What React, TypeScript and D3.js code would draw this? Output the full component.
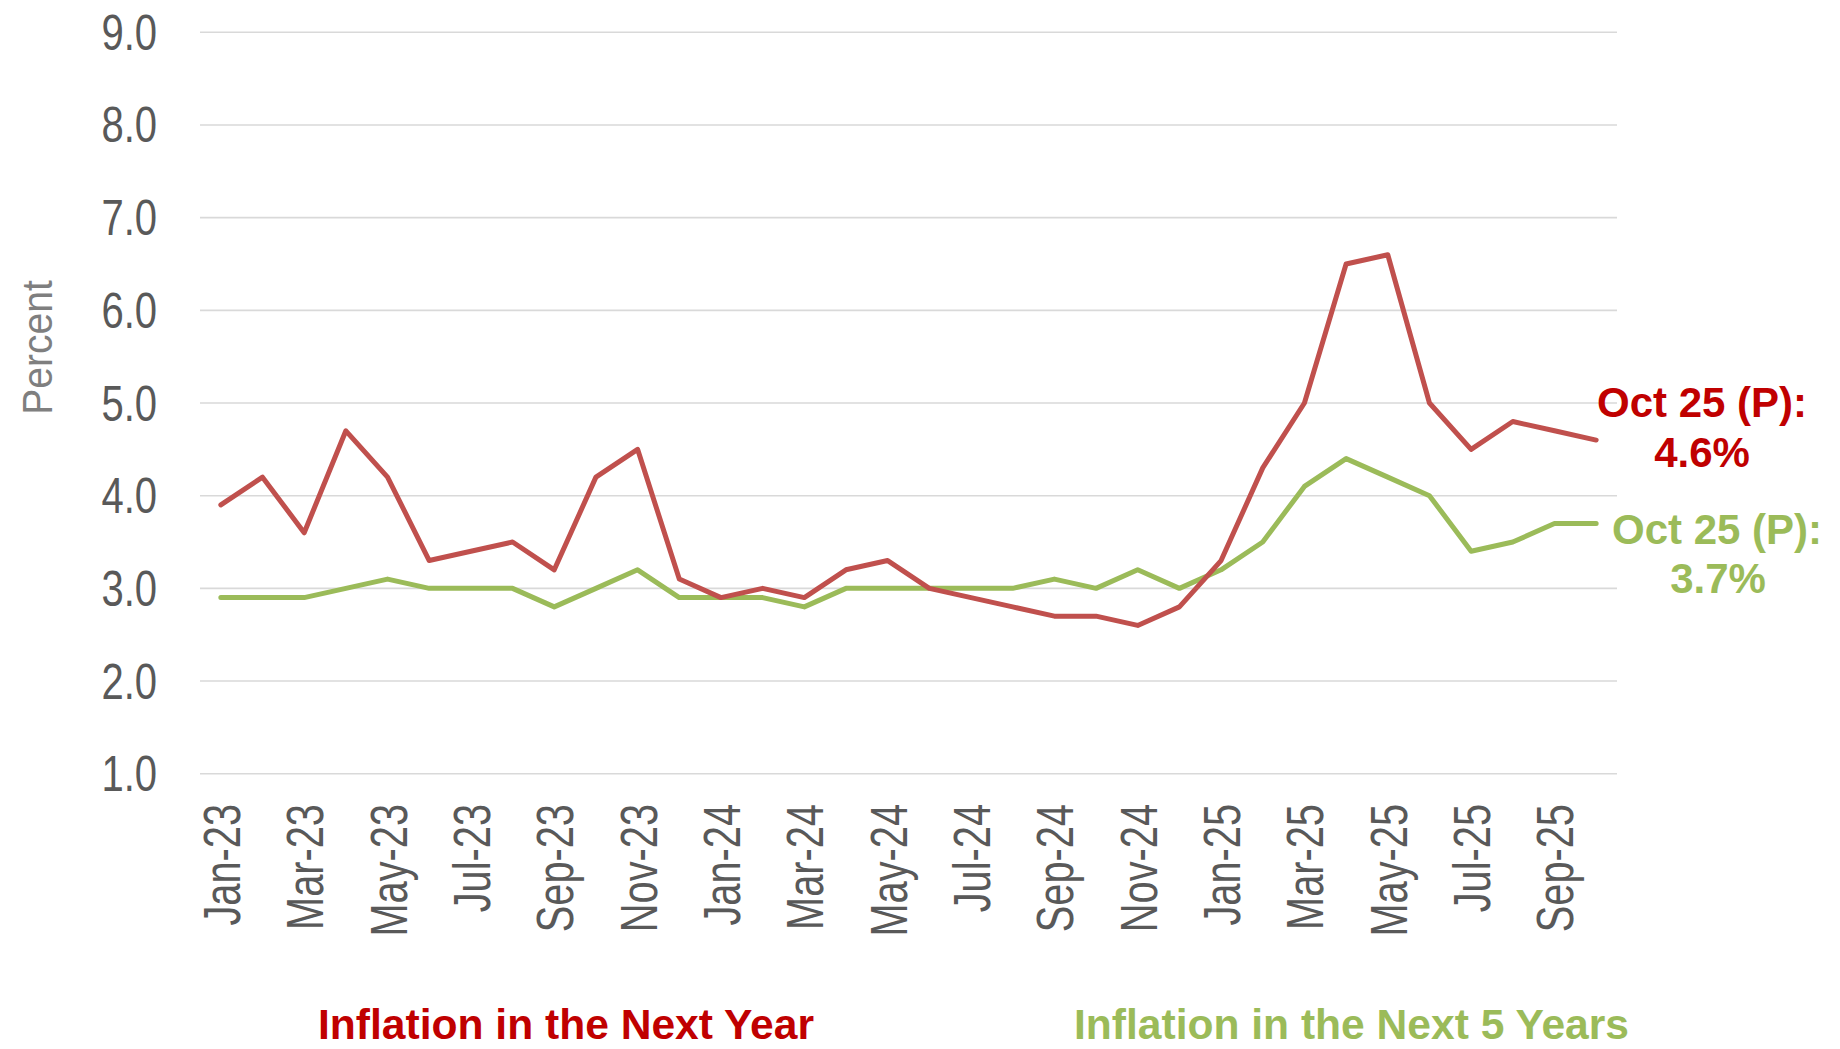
import React from "react";
import * as d3 from "d3";

const months: string[] = [
  "Jan-23","Feb-23","Mar-23","Apr-23","May-23","Jun-23","Jul-23","Aug-23","Sep-23","Oct-23","Nov-23","Dec-23",
  "Jan-24","Feb-24","Mar-24","Apr-24","May-24","Jun-24","Jul-24","Aug-24","Sep-24","Oct-24","Nov-24","Dec-24",
  "Jan-25","Feb-25","Mar-25","Apr-25","May-25","Jun-25","Jul-25","Aug-25","Sep-25","Oct-25",
];

const nextYear: number[] = [
  3.9, 4.2, 3.6, 4.7, 4.2, 3.3, 3.4, 3.5, 3.2, 4.2, 4.5, 3.1,
  2.9, 3.0, 2.9, 3.2, 3.3, 3.0, 2.9, 2.8, 2.7, 2.7, 2.6, 2.8,
  3.3, 4.3, 5.0, 6.5, 6.6, 5.0, 4.5, 4.8, 4.7, 4.6,
];

const next5Years: number[] = [
  2.9, 2.9, 2.9, 3.0, 3.1, 3.0, 3.0, 3.0, 2.8, 3.0, 3.2, 2.9,
  2.9, 2.9, 2.8, 3.0, 3.0, 3.0, 3.0, 3.0, 3.1, 3.0, 3.2, 3.0,
  3.2, 3.5, 4.1, 4.4, 4.2, 4.0, 3.4, 3.5, 3.7, 3.7,
];

const yTicks: number[] = [1, 2, 3, 4, 5, 6, 7, 8, 9];
const xTickLabels: string[] = months.filter((_, i) => i % 2 === 0 && i < 33);

const redLine = "#C0504D";
const greenLine = "#9BBB59";
const redText = "#C00000";
const greenText = "#9BBB59";

export default function App() {
  const W = 1840, H = 1049;
  const left = 200, right = 1617, top = 32.3, bottom = 773.7;

  const x = d3.scaleBand<string>().domain(months).range([left, right]);
  const cx = (m: string) => (x(m) as number) + x.bandwidth() / 2;
  const y = d3.scaleLinear().domain([1, 9]).range([bottom, top]);

  const line = d3.line<number>()
    .x((_, i) => cx(months[i]))
    .y((d) => y(d));

  const sans = "'Liberation Sans', Arial, sans-serif";

  return (
    <svg width={W} height={H} style={{ position: "absolute", left: 0, top: 0, background: "#fff" }}>
      {yTicks.map((t) => (
        <g key={t}>
          <line x1={left} x2={right} y1={y(t)} y2={y(t)} stroke="#d9d9d9" strokeWidth={1.6} />
          <text
            transform={`translate(157,${y(t) + 17.5}) scale(0.8,1)`}
            textAnchor="end"
            fontFamily={sans}
            fontSize={50}
            fill="#595959"
          >
            {t.toFixed(1)}
          </text>
        </g>
      ))}
      <text
        transform={`translate(52,347.5) rotate(-90) scale(0.93,1)`}
        textAnchor="middle"
        fontFamily={sans}
        fontSize={42}
        fill="#7f7f7f"
      >
        Percent
      </text>
      {xTickLabels.map((m) => (
        <text
          key={m}
          transform={`translate(${cx(m) + 19},804) rotate(-90) scale(0.78,1)`}
          textAnchor="end"
          fontFamily={sans}
          fontSize={51}
          fill="#595959"
        >
          {m}
        </text>
      ))}
      <path d={line(next5Years) || ""} fill="none" stroke={greenLine} strokeWidth={5} strokeLinejoin="round" strokeLinecap="round" />
      <path d={line(nextYear) || ""} fill="none" stroke={redLine} strokeWidth={5} strokeLinejoin="round" strokeLinecap="round" />

      <g fontFamily={sans} fontWeight="bold" fontSize={42} textAnchor="middle">
        <text x={1702} y={417} fill={redText}>Oct 25 (P):</text>
        <text x={1702} y={467} fill={redText}>{`${nextYear[33].toFixed(1)}%`}</text>
        <text x={1717} y={544} fill={greenText}>Oct 25 (P):</text>
        <text x={1718} y={593} fill={greenText}>{`${next5Years[33].toFixed(1)}%`}</text>
      </g>

      <g fontFamily={sans} fontWeight="bold" fontSize={42}>
        <text x={318} y={1039} fill={redText} textLength={496} lengthAdjust="spacingAndGlyphs">Inflation in the Next Year</text>
        <text x={1074} y={1039} fill={greenText} textLength={555} lengthAdjust="spacingAndGlyphs">Inflation in the Next 5 Years</text>
      </g>
    </svg>
  );
}
